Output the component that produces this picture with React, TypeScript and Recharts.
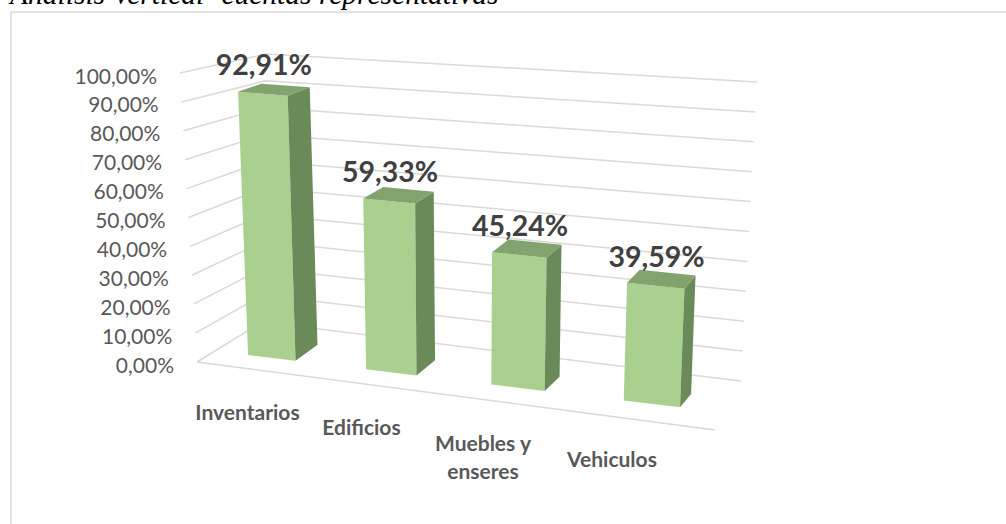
import React from 'react';
import { BarChart, Bar, XAxis, YAxis, CartesianGrid, LabelList } from 'recharts';

// ---------- data ----------
const categories = ['Inventarios', 'Edificios', 'Muebles y enseres', 'Vehiculos'];
const values = [92.91, 59.33, 45.24, 39.59];
const yTicks = [0, 10, 20, 30, 40, 50, 60, 70, 80, 90, 100];
const title = 'Análisis Vertical- cuentas representativas';

const data = categories.map((name, i) => ({ name, value: values[i] }));

// ---------- layout ----------
const W = 1006;
const H = 524;
const Y_AXIS_W = 2;
const X_AXIS_H = 2;
const M = { top: 73, right: 291, bottom: 162 - X_AXIS_H, left: 197 - Y_AXIS_W };
const PL = M.left + Y_AXIS_W;
const PW = W - PL - M.right;
const PT = M.top;
const PH = H - M.top - M.bottom - X_AXIS_H;
const PB = PT + PH;
const BAND = PW / categories.length;

// ---------- 3D projection (Excel-like perspective) ----------
type Pt = [number, number];
const lerp = (a: Pt, b: Pt, f: number): Pt => [a[0] + (b[0] - a[0]) * f, a[1] + (b[1] - a[1]) * f];

// wall corners (bottom = 0 %, top = 100 %)
const FL0: Pt = [PL, PB];
const FL1: Pt = [PL - 17, PT];
const C0: Pt = [PL + 65, PB - 40];
const C1: Pt = [PL + 69, PT - 19];
const BR0: Pt = [PL + 544, PB + 19];
const BR1: Pt = [PL + 560, PT + 9];
const FR0: Pt = [PL + 518, PB + 68];

const tOf = (X: number) => (X - PL) / BAND - 0.5;
const xsOf = (t: number) => 271.7 + 119.5 * t + 3.6 * t * (t - 1);
const ybOf = (xs: number) => 355 + 0.121 * (xs - 248);
const hOf = (xs: number) => 283.4 + 0.037 * (xs - 248);
const leanOf = (xs: number) => -10.8 + 0.0507 * (xs - 248);
const dxOf = (xs: number) => 22 - 0.0284 * (xs - 295);
const dyOf = (xs: number, v: number) => -16 + 0.007 * (xs - 295) + v * (8 - 0.02 * (xs - 295));

const front = (X: number, v: number): Pt => {
  const xs = xsOf(tOf(X));
  return [xs + v * leanOf(xs), ybOf(xs) - v * hOf(xs)];
};
const back = (X: number, v: number): Pt => {
  const xs = xsOf(tOf(X));
  const f = front(X, v);
  return [f[0] + dxOf(xs), f[1] + dyOf(xs, v)];
};
const pts = (a: Pt[]) => a.map((p) => `${p[0].toFixed(2)},${p[1].toFixed(2)}`).join(' ');

const fmtPct = (v: number) => `${v.toFixed(2).replace('.', ',')}%`;

const FONT = 'Lato, "Open Sans", "DejaVu Sans", sans-serif';

// ---------- custom renderers ----------
const Bar3D = (props: any) => {
  const { x, width, height } = props;
  if (!height || height <= 0) return null;
  const v = height / PH;
  const xl = x;
  const xr = x + width;
  const bl = front(xl, 0);
  const br = front(xr, 0);
  const tl = front(xl, v);
  const tr = front(xr, v);
  const bbr = back(xr, 0);
  const btr = back(xr, v);
  const btl = back(xl, v);
  return (
    <g>
      <polygon points={pts([bl, br, tr, tl])} fill="#A9D08E" />
      <polygon points={pts([br, bbr, btr, tr])} fill="#6B8A5A" />
      <polygon points={pts([tl, tr, btr, btl])} fill="#82A36E" />
    </g>
  );
};

const renderLabel = (props: any) => {
  const vb = props.viewBox || {};
  const x = props.x ?? vb.x;
  const width = props.width ?? vb.width;
  const height = props.height ?? vb.height;
  const v = Math.abs(height) / PH;
  const c = front(x + width / 2, v);
  return (
    <text
      x={c[0] + 1}
      y={c[1] - 30}
      textAnchor="middle"
      dominantBaseline="central"
      fontFamily={FONT}
      fontWeight={700}
      fontSize={28.5}
      fill="#404040"
    >
      {fmtPct(Number(props.value))}
    </text>
  );
};

const gridLine = (props: any) => {
  const { y1 } = props;
  const v = (PB - y1) / PH;
  const a = lerp(FL0, FL1, v);
  const b = lerp(C0, C1, v);
  const c = lerp(BR0, BR1, v);
  return (
    <g key={props.key ?? `g-${props.index}`}>
      <polyline points={pts([a, b, c])} fill="none" stroke="#D9D9D9" strokeWidth={1.5} />
      {v < 0.001 && (
        <line x1={FL0[0]} y1={FL0[1]} x2={FR0[0]} y2={FR0[1]} stroke="#D9D9D9" strokeWidth={1.5} />
      )}
    </g>
  );
};

const YTick = (props: any) => {
  const val = Number(props.payload.value);
  const p = lerp(FL0, FL1, val / 100);
  return (
    <text
      x={p[0] - 23}
      y={p[1] + 2}
      textAnchor="end"
      dominantBaseline="central"
      fontFamily={FONT}
      fontSize={21}
      fill="#595959"
    >
      {fmtPct(val)}
    </text>
  );
};

const wrapWords = (s: string, max: number) => {
  const words = s.split(' ');
  const lines: string[] = [];
  let cur = '';
  for (const w of words) {
    const next = cur ? `${cur} ${w}` : w;
    if (next.length > max && cur) {
      lines.push(cur);
      cur = w;
    } else cur = next;
  }
  if (cur) lines.push(cur);
  return lines;
};

const XTick = (props: any) => {
  const t = tOf(props.x);
  const xl = 247.5 + 114 * t + 3.75 * t * (t - 1);
  const yl = FL0[1] + ((FR0[1] - FL0[1]) / (FR0[0] - FL0[0])) * (xl - FL0[0]) + 42;
  const lines = wrapWords(String(props.payload.value), 11);
  return (
    <text
      x={xl}
      y={yl}
      textAnchor="middle"
      dominantBaseline="central"
      fontFamily={FONT}
      fontWeight={700}
      fontSize={21}
      fill="#595959"
    >
      {lines.map((l, i) => (
        <tspan key={i} x={xl} dy={i === 0 ? 0 : 28}>
          {l}
        </tspan>
      ))}
    </text>
  );
};

export default function App() {
  return (
    <div style={{ position: 'relative', width: W, height: H, overflow: 'hidden', background: '#fff' }}>
      <style>{'html,body{margin:0;padding:0;overflow:hidden;background:#fff}'}</style>
      <svg width={W} height={H} style={{ position: 'absolute', left: 0, top: 0 }}>
        <line x1={11} y1={12} x2={W} y2={12} stroke="#D9D9D9" strokeWidth={1.5} />
        <line x1={11} y1={12} x2={11} y2={H} stroke="#D9D9D9" strokeWidth={1.5} />
        <text
          x={10}
          y={4}
          fontFamily='"Liberation Serif", "Times New Roman", serif'
          fontStyle="italic"
          fontSize={29.5}
          fill="#000"
        >
          {title}
        </text>
      </svg>
      <div style={{ position: 'absolute', left: 0, top: 0 }}>
        <BarChart width={W} height={H} data={data} margin={M} barCategoryGap="29.5%">
          <CartesianGrid horizontal={gridLine} vertical={false} />
          <XAxis
            dataKey="name"
            height={X_AXIS_H}
            axisLine={false}
            tickLine={false}
            interval={0}
            tick={XTick}
          />
          <YAxis
            type="number"
            domain={[0, 100]}
            ticks={yTicks}
            width={Y_AXIS_W}
            axisLine={false}
            tickLine={false}
            interval={0}
            tick={YTick}
          />
          <Bar dataKey="value" shape={Bar3D} isAnimationActive={false}>
            <LabelList dataKey="value" content={renderLabel} />
          </Bar>
        </BarChart>
      </div>
    </div>
  );
}
